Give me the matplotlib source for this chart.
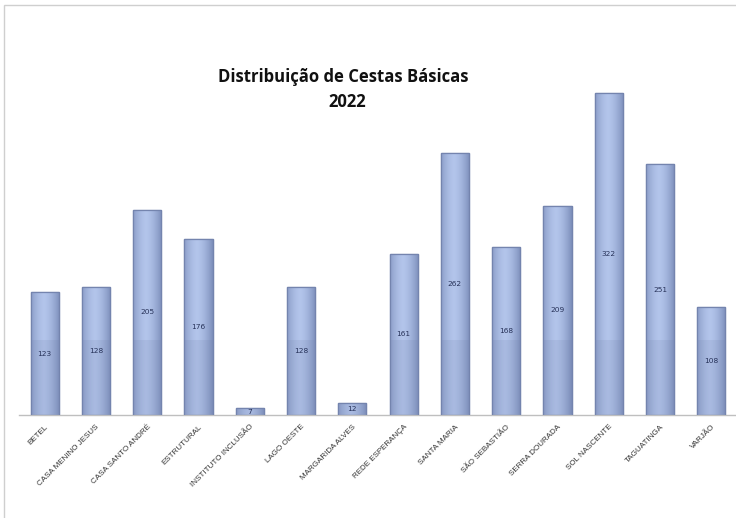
import matplotlib
matplotlib.use("Agg")
import matplotlib.pyplot as plt
import numpy as np
from matplotlib.patches import Rectangle

categories = ["BETEL", "CASA MENINO JESUS", "CASA SANTO ANDRÉ", "ESTRUTURAL",
              "INSTITUTO INCLUSÃO", "LAGO OESTE", "MARGARIDA ALVES", "REDE ESPERANÇA",
              "SANTA MARIA", "SÃO SEBASTIÃO", "SERRA DOURADA", "SOL NASCENTE",
              "TAGUATINGA", "VARJÃO"]
values = [123, 128, 205, 176, 7, 128, 12, 161, 262, 168, 209, 322, 251, 108]
title_lines = ["Distribuição de Cestas Básicas", "2022"]

fig = plt.figure(figsize=(7.36, 5.18), dpi=100)
fig.patch.set_facecolor("white")
ax = fig.add_axes([19/736, 1 - 415/518, 718/736, 410/518])
ax.set_xlim(-0.5, len(categories) - 0.5)
ax.set_ylim(0, 410)

x = np.arange(len(categories))
width = 0.55
bars = ax.bar(x, values, width=width, color="#9eaed8", edgecolor="#7484ae", linewidth=0.9, zorder=2)

# horizontal shading gradient on each bar
grad = np.linspace(0, 1, 64)
shade = 1 - (np.abs(grad - 0.45) * 2) ** 1.6
img = np.zeros((2, 64, 3))
base = np.array([0.52, 0.59, 0.76])
light = np.array([0.70, 0.77, 0.92])
for i in range(64):
    img[:, i, :] = base + (light - base) * shade[i]
for b in bars:
    x0, y0 = b.get_x(), b.get_y()
    w, h = b.get_width(), b.get_height()
    im = ax.imshow(img, extent=[x0, x0 + w, y0, y0 + h], aspect="auto", zorder=2.5,
                   interpolation="bilinear")
    im.set_clip_path(b)
    ax.add_patch(Rectangle((x0, 0), w, min(h, 75), facecolor="#6f7ea8", alpha=0.15,
                           edgecolor="none", zorder=2.6))
    ax.add_patch(Rectangle((x0, 0), w, h, facecolor="none", edgecolor="#7484ae",
                           linewidth=0.9, zorder=2.7))

for xi, v in zip(x, values):
    ax.text(xi, v / 2, str(v), ha="center", va="center", fontsize=5.3,
            color="#263158", zorder=3)

ax.set_xticks(x)
ax.set_xticklabels(categories, rotation=45, ha="right", rotation_mode="anchor",
                   fontsize=5.8, color="#333333", family="Liberation Sans")
ax.tick_params(axis="x", length=0, pad=6)
ax.set_yticks([])
for s in ["top", "right", "left"]:
    ax.spines[s].set_visible(False)
ax.spines["bottom"].set_color("#bfbfbf")
ax.spines["bottom"].set_linewidth(1.0)

fig.text(343/736, 1 - 77/518, title_lines[0], ha="center", va="center",
         fontsize=12, fontweight="bold", family="Open Sans", color="#111111")
fig.text(347/736, 1 - 102/518, title_lines[1], ha="center", va="center",
         fontsize=12, fontweight="bold", family="Open Sans", color="#111111")

# outer frame
fig.add_artist(Rectangle((4/736, -0.01), 1.0, 1 - 5/518 + 0.01, transform=fig.transFigure,
                         facecolor="none", edgecolor="#cfcfcf", linewidth=1.0))

fig.savefig("out.png", dpi=100)
